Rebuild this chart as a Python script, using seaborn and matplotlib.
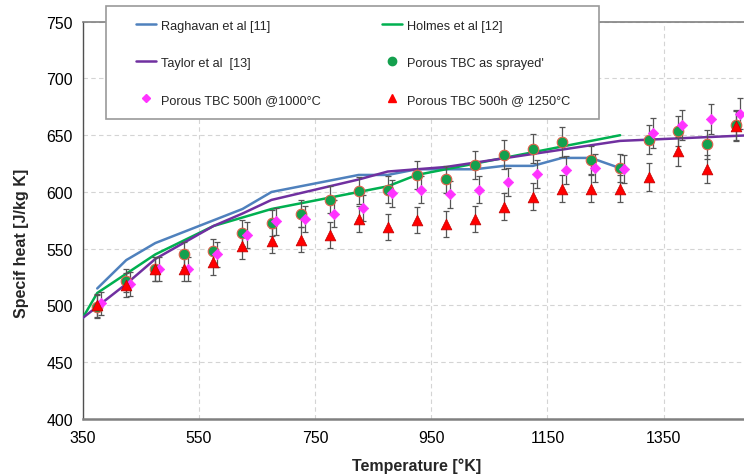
import matplotlib
matplotlib.use("Agg")
import matplotlib.pyplot as plt
from matplotlib.lines import Line2D
from matplotlib.patches import Rectangle
import numpy as np
import pandas as pd
import seaborn as sns

# ---------------- data ----------------
# literature curves
raghavan_T = [375, 425, 475, 625, 675, 825, 875, 925, 1025, 1075, 1125, 1175, 1225, 1275]
raghavan_cp = [515, 540, 555, 585, 600, 615, 615, 620, 620, 623, 623, 630, 630, 621]

holmes_T = [350, 375, 425, 475, 575, 675, 875, 925, 1275]
holmes_cp = [489, 511, 528, 545, 570, 585, 605, 615, 650]

taylor_T = [350, 425, 475, 575, 625, 675, 825, 875, 975, 1275, 1500]
taylor_cp = [489, 519, 541, 570, 581, 593, 611, 618, 622, 645, 650]

# measurements
meas_T = [375, 425, 475, 525, 575, 625, 675, 725, 775, 825, 875, 925,
          975, 1025, 1075, 1125, 1175, 1225, 1275, 1325, 1375, 1425, 1475]
sprayed_cp = [499, 522, 532, 545, 548, 564, 573, 581, 593, 601, 602, 615,
              611, 624, 633, 638, 644, 628, 621, 646, 654, 642, 659]
h1000_T = [382, 432, 482, 532, 582, 632, 682, 732, 782, 832, 882, 932,
           982, 1032, 1082, 1132, 1182, 1232, 1282, 1332, 1382, 1432, 1482]
h1000_cp = [502, 519, 532, 532, 545, 562, 574, 576, 581, 586, 599, 602,
            598, 602, 609, 616, 619, 621, 620, 652, 659, 664, 669]
h1250_cp = [500, 518, 532, 532, 538, 552, 557, 558, 562, 576, 569, 575,
            572, 576, 587, 596, 603, 603, 603, 613, 636, 620, 658]
err_pct = 2.0  # percentage error bars

x_ticks = [350, 550, 750, 950, 1150, 1350]
y_ticks = [400, 450, 500, 550, 600, 650, 700, 750]

labels = ["Raghavan et al [11]", "Holmes et al [12]", "Taylor et al  [13]",
          "Porous TBC as sprayed'", "Porous TBC 500h @1000°C", "Porous TBC 500h @ 1250°C"]

# ---------------- style ----------------
sns.set_style("white")
plt.rcParams["font.family"] = ["Liberation Sans", "DejaVu Sans"]

c_blue = "#4f81bd"
c_green_line = "#00b050"
c_purple = "#7030a0"
c_green_m = "#14a04e"
c_pink = "#ff33ff"
c_red = "#ff0000"

W, H = 744, 477
fig = plt.figure(figsize=(W / 100, H / 100), dpi=100)
x0, x1 = 82.7, 750.8
y_top, y_bot = 22.7, 420
ax = fig.add_axes([x0 / W, 1 - y_bot / H, (x1 - x0) / W, (y_bot - y_top) / H])

# lines
lines_df = pd.concat([
    pd.DataFrame({"T": raghavan_T, "cp": raghavan_cp, "src": labels[0]}),
    pd.DataFrame({"T": holmes_T, "cp": holmes_cp, "src": labels[1]}),
    pd.DataFrame({"T": taylor_T, "cp": taylor_cp, "src": labels[2]}),
])
sns.lineplot(data=lines_df, x="T", y="cp", hue="src", sort=False, estimator=None,
             palette={labels[0]: c_blue, labels[1]: c_green_line, labels[2]: c_purple},
             linewidth=1.8, legend=False, ax=ax, zorder=3)

# error bars
def ebar(xs, ys):
    ys = np.asarray(ys, dtype=float)
    ax.errorbar(xs, ys, yerr=ys * err_pct / 100.0, fmt="none", ecolor="#555555",
                elinewidth=0.9, capsize=2.5, capthick=0.9, zorder=4)

ebar(meas_T, sprayed_cp)
ebar(h1000_T, h1000_cp)
ebar(meas_T, h1250_cp)

sns.scatterplot(x=meas_T, y=sprayed_cp, marker="o", s=58, color=c_green_m,
                edgecolor="#e0604a", linewidth=0.8, ax=ax, zorder=5)
sns.scatterplot(x=h1000_T, y=h1000_cp, marker="D", s=28, color=c_pink,
                edgecolor=c_pink, linewidth=0.5, ax=ax, zorder=6)
sns.scatterplot(x=meas_T, y=h1250_cp, marker="^", s=60, color=c_red,
                edgecolor="#c00000", linewidth=0.5, ax=ax, zorder=7)

ax.set_xlim(350, 1500)
ax.set_ylim(400, 750)
ax.set_xticks(x_ticks)
ax.set_yticks(y_ticks)
ax.grid(True, color="#d4d4d4", linestyle=(0, (4, 3)), linewidth=0.8)
ax.set_axisbelow(True)

ax.spines["left"].set_color("#505050")
ax.spines["left"].set_linewidth(1.0)
ax.spines["bottom"].set_color("#808080")
ax.spines["bottom"].set_linewidth(1.8)
ax.spines["top"].set_color("#808080")
ax.spines["top"].set_linewidth(1.2)
ax.spines["right"].set_visible(False)

ax.tick_params(axis="both", which="major", direction="out", length=4, width=1,
               color="#505050", labelsize=11.4, labelcolor="black", pad=3)
ax.tick_params(axis="x", pad=4)

ax.set_xlabel("Temperature [°K]", fontsize=11.5, fontweight="bold", labelpad=9)
ax.set_ylabel("Specif heat [J/kg K]", fontsize=11.5, fontweight="bold")
ax.yaxis.set_label_coords(-0.081, 0.445)

# legend frame
rect = Rectangle((106 / W, 1 - 120 / H), 493 / W, (120 - 6.7) / H, transform=fig.transFigure,
                 facecolor="white", edgecolor="#9a9a9a", linewidth=1.2, zorder=5)
fig.patches.append(rect)

handles = [
    Line2D([], [], color=c_blue, lw=1.8),
    Line2D([], [], color=c_purple, lw=1.8),
    Line2D([], [], marker="D", ls="none", color=c_pink, markersize=4.5),
    Line2D([], [], color=c_green_line, lw=1.8),
    Line2D([], [], marker="o", ls="none", color=c_green_m, markersize=6),
    Line2D([], [], marker="^", ls="none", color=c_red, markersize=6),
]
leg_labels = [labels[0], labels[2], labels[4], labels[1], labels[3], labels[5]]
leg = fig.legend(handles, leg_labels, ncol=2, loc="upper left",
                 bbox_to_anchor=(136 / W, 1 - 20.5 / H), frameon=False, borderpad=0,
                 borderaxespad=0, fontsize=9.2, handlelength=1.56, handletextpad=0.4,
                 labelspacing=1.96, columnspacing=4.8)
leg.set_zorder(6)

fig.savefig("out.png", dpi=100)
